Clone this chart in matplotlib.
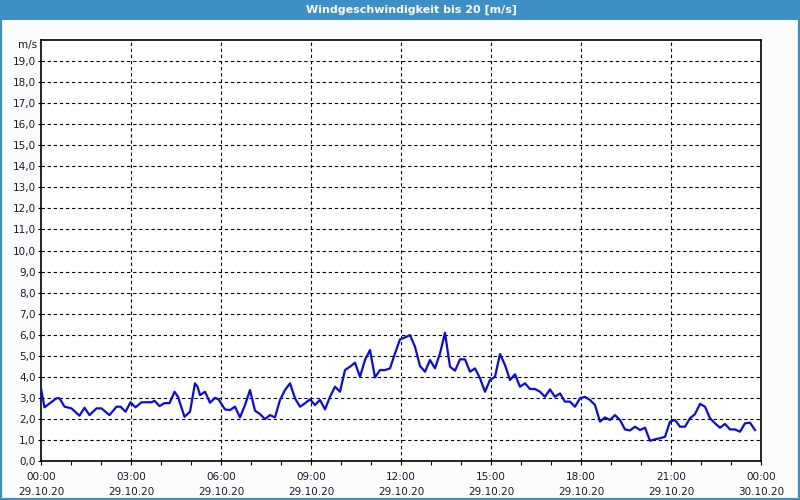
import numpy as np
import matplotlib.pyplot as plt
from matplotlib.patches import Rectangle
from matplotlib.ticker import MultipleLocator

# minutes since 29.10.20 00:00 and wind speed in m/s
minutes = [0, 7, 31, 37, 47, 61, 77, 87, 97, 111, 121, 137, 151, 159, 169, 179, 189, 201,
           221, 227, 237, 247, 257, 267, 274, 287, 298, 308, 313, 318, 328, 338, 348, 355,
           368, 378, 388, 398, 408, 418, 428, 438, 448, 458, 468, 478, 488, 498, 508, 518,
           528, 538, 548, 558, 568, 578, 588, 598, 608, 618, 628, 638, 648, 658, 668, 678,
           688, 698, 708, 718, 728, 738, 748, 758, 768, 778, 788, 798, 808, 818, 828, 838,
           848, 858, 868, 878, 888, 898, 908, 918, 928, 938, 948, 958, 968, 978, 988, 998,
           1008, 1018, 1028, 1038, 1048, 1058, 1068, 1078, 1088, 1098, 1108, 1118, 1128,
           1138, 1148, 1158, 1168, 1178, 1188, 1198, 1208, 1218, 1228, 1238, 1248, 1258,
           1268, 1278, 1288, 1298, 1308, 1318, 1328, 1338, 1348, 1358, 1368, 1378, 1388,
           1398, 1408, 1418, 1428]
speed = [3.45, 2.55, 2.98, 2.98, 2.58, 2.5, 2.15, 2.53, 2.18, 2.5, 2.5, 2.18, 2.58, 2.58,
         2.34, 2.79, 2.55, 2.79, 2.79, 2.86, 2.61, 2.75, 2.75, 3.29, 3.05, 2.1, 2.34, 3.69,
         3.53, 3.13, 3.29, 2.77, 3.0, 2.93, 2.45, 2.42, 2.58, 2.07, 2.66, 3.37, 2.39, 2.23,
         1.99, 2.18, 2.07, 2.9, 3.37, 3.69, 2.98, 2.58, 2.74, 2.93, 2.66, 2.9, 2.45, 3.05,
         3.53, 3.29, 4.32, 4.48, 4.67, 4.0, 4.8, 5.27, 3.97, 4.32, 4.32, 4.4, 5.11, 5.78,
         5.87, 5.98, 5.43, 4.51, 4.24, 4.8, 4.4, 5.11, 6.09, 4.48, 4.29, 4.83, 4.83, 4.24,
         4.4, 3.93, 3.29, 3.85, 4.0, 5.08, 4.56, 3.85, 4.12, 3.53, 3.69, 3.42, 3.42, 3.29,
         3.05, 3.4, 3.05, 3.21, 2.82, 2.82, 2.58, 2.98, 3.05, 2.9, 2.66, 1.87, 2.07, 1.95,
         2.18, 1.95, 1.5, 1.45, 1.63, 1.47, 1.58, 0.96, 1.03, 1.08, 1.15, 1.87, 1.95, 1.63,
         1.63, 2.03, 2.23, 2.71, 2.58, 2.03, 1.79, 1.58, 1.76, 1.5, 1.5, 1.39, 1.79, 1.82,
         1.47]

hours = np.array(minutes) / 60.0
tick_hours = [0, 3, 6, 9, 12, 15, 18, 21, 24]
tick_labels = ['00:00\n29.10.20', '03:00\n29.10.20', '06:00\n29.10.20', '09:00\n29.10.20',
               '12:00\n29.10.20', '15:00\n29.10.20', '18:00\n29.10.20', '21:00\n29.10.20',
               '00:00\n30.10.20']
title = 'Windgeschwindigkeit bis 20 [m/s]'

bar_col = '#3d8fc6'
txt_col = '#1a1a2e'

fig = plt.figure(figsize=(8, 5), dpi=100, facecolor='#fbfdfc')

# title bar and frame
fig.patches.append(Rectangle((0, 0.96), 1, 0.04, transform=fig.transFigure,
                             facecolor=bar_col, edgecolor='none', zorder=0))
fig.patches.append(Rectangle((0.0015, 0.002), 0.997, 0.996, transform=fig.transFigure,
                             facecolor='none', edgecolor=bar_col, lw=1.6, zorder=5))
fig.text(0.515, 0.98, title, color='white', fontsize=8, fontweight='bold',
         ha='center', va='center')

ax = fig.add_axes([0.05125, 0.078, 0.9, 0.842])
ax.set_facecolor('white')
ax.plot(hours, speed, color='#0a0ae6', lw=1.6, zorder=3)

ax.set_xlim(0, 24)
ax.set_ylim(0, 20)
ax.set_xticks(tick_hours)
ax.set_xticklabels(tick_labels, fontsize=7.5, color=txt_col, linespacing=1.6)
ax.xaxis.set_minor_locator(MultipleLocator(1))
yt = np.arange(0, 20)
ax.set_yticks(yt)
ax.set_yticklabels([('%.1f' % v).replace('.', ',') for v in yt], fontsize=7.5, color=txt_col)
ax.text(-0.006, 19.75, 'm/s', transform=ax.get_yaxis_transform(), ha='right', va='center',
        fontsize=7.5, color=txt_col)

ax.tick_params(axis='x', which='both', direction='out', length=3, width=0.8, pad=5)
ax.tick_params(axis='y', direction='out', length=2, width=0.8, pad=2)

for v in range(1, 20):
    ax.axhline(v, color='black', lw=0.8, ls=(0, (3, 2.5)), zorder=1)
for h in tick_hours[1:-1]:
    ax.axvline(h, color='black', lw=0.8, ls=(0, (3, 2.5)), zorder=1)

for s in ax.spines.values():
    s.set_color('black')
    s.set_linewidth(1.2)

fig.savefig('out.png', dpi=100, facecolor=fig.get_facecolor())
